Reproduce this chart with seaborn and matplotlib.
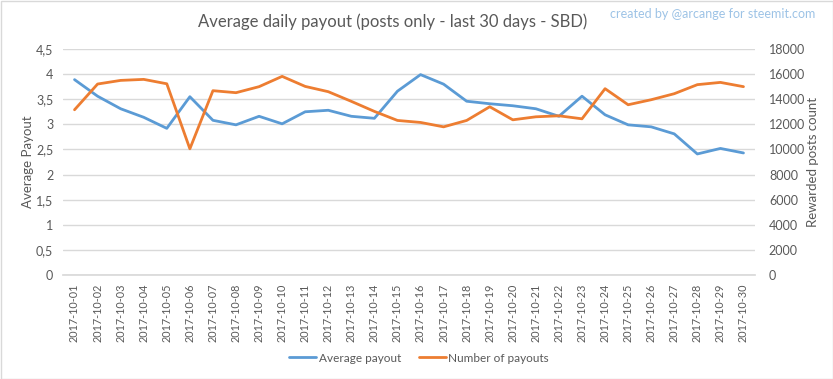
import matplotlib
matplotlib.use("Agg")
import matplotlib.pyplot as plt
import seaborn as sns
import pandas as pd
from matplotlib.ticker import FuncFormatter, MultipleLocator
from matplotlib.lines import Line2D
from matplotlib.patches import Rectangle

dates = [f"2017-10-{d:02d}" for d in range(1, 31)]
avg_payout = [3.89, 3.56, 3.31, 3.14, 2.92, 3.55, 3.08, 2.99, 3.16, 3.01,
              3.25, 3.28, 3.16, 3.12, 3.66, 3.99, 3.80, 3.46, 3.41, 3.37,
              3.31, 3.16, 3.56, 3.19, 2.99, 2.95, 2.81, 2.41, 2.52, 2.43]
num_payouts = [13160, 15210, 15500, 15580, 15230, 10050, 14680, 14520, 15000, 15820,
               15020, 14600, 13830, 13030, 12310, 12150, 11800, 12310, 13400, 12360,
               12600, 12680, 12440, 14840, 13560, 13960, 14440, 15160, 15340, 15000]

BLUE = "#5B9BD5"
ORANGE = "#ED7D31"
GRID = "#D9D9D9"
TXT = "#595959"

sns.set_theme(style="white")
plt.rcParams["font.family"] = ["Lato", "DejaVu Sans"]

df = pd.DataFrame({"date": dates, "avg": avg_payout, "num": num_payouts})
df["x"] = range(len(dates))

fig = plt.figure(figsize=(8.33, 3.79), dpi=100)
ax = fig.add_axes([63/833, 1-275/379, (755-63)/833, (275-49)/379])
ax2 = ax.twinx()

sns.lineplot(data=df, x="x", y="avg", ax=ax, color=BLUE, linewidth=2, zorder=3)
sns.lineplot(data=df, x="x", y="num", ax=ax2, color=ORANGE, linewidth=2, zorder=3)

ax.set_xlim(-0.5, len(dates) - 0.5)
ax.set_ylim(0, 4.5)
ax2.set_ylim(0, 18000)
ax.yaxis.set_major_locator(MultipleLocator(0.5))
ax2.yaxis.set_major_locator(MultipleLocator(2000))
ax.yaxis.set_major_formatter(FuncFormatter(lambda v, p: f"{v:g}".replace(".", ",")))
ax2.yaxis.set_major_formatter(FuncFormatter(lambda v, p: f"{int(v)}"))

ax.set_xticks(range(len(dates)))
ax.set_xticklabels(dates, rotation=90, fontsize=7.8, color=TXT)
ax.grid(axis="y", color=GRID, linewidth=1)
ax.set_axisbelow(True)
for a in (ax, ax2):
    for s in a.spines.values():
        s.set_visible(False)
    a.tick_params(axis="y", length=0, labelsize=9, colors=TXT)
ax.tick_params(axis="x", length=0, colors=TXT)
ax.spines["bottom"].set_visible(True)
ax.spines["bottom"].set_color(GRID)
ax.tick_params(axis="y", pad=7)
ax2.tick_params(axis="y", pad=10)
ax.tick_params(axis="x", pad=6)

ax.set_xlabel("")
ax.set_ylabel("Average Payout", fontsize=9.5, color=TXT)
ax.yaxis.set_label_coords((34 - 63) / 692, 0.5)
ax2.set_ylabel("Rewarded posts count", fontsize=9.5, color=TXT, labelpad=1)

fig.text(393/833, 1-22/379, "Average daily payout (posts only - last 30 days - SBD)",
         ha="center", va="center", fontsize=12, color=TXT)
fig.text(815/833, 1-14/379, "created by @arcange for steemit.com",
         ha="right", va="center", fontsize=9, color="#9DC3E6")

handles = [Line2D([0], [0], color=BLUE, lw=2), Line2D([0], [0], color=ORANGE, lw=2)]
fig.legend(handles, ["Average payout", "Number of payouts"], loc="center",
           bbox_to_anchor=(419/833, 1-358/379), ncol=2, frameon=False,
           fontsize=8.5, labelcolor=TXT, handlelength=2.3, handletextpad=0.2,
           columnspacing=1.5)

fig.patches.append(Rectangle((0.5/833, 0.5/379), 1-1/833, 1-1/379, transform=fig.transFigure,
                             fill=False, edgecolor=GRID, linewidth=1))

fig.savefig("out.png", dpi=100)
